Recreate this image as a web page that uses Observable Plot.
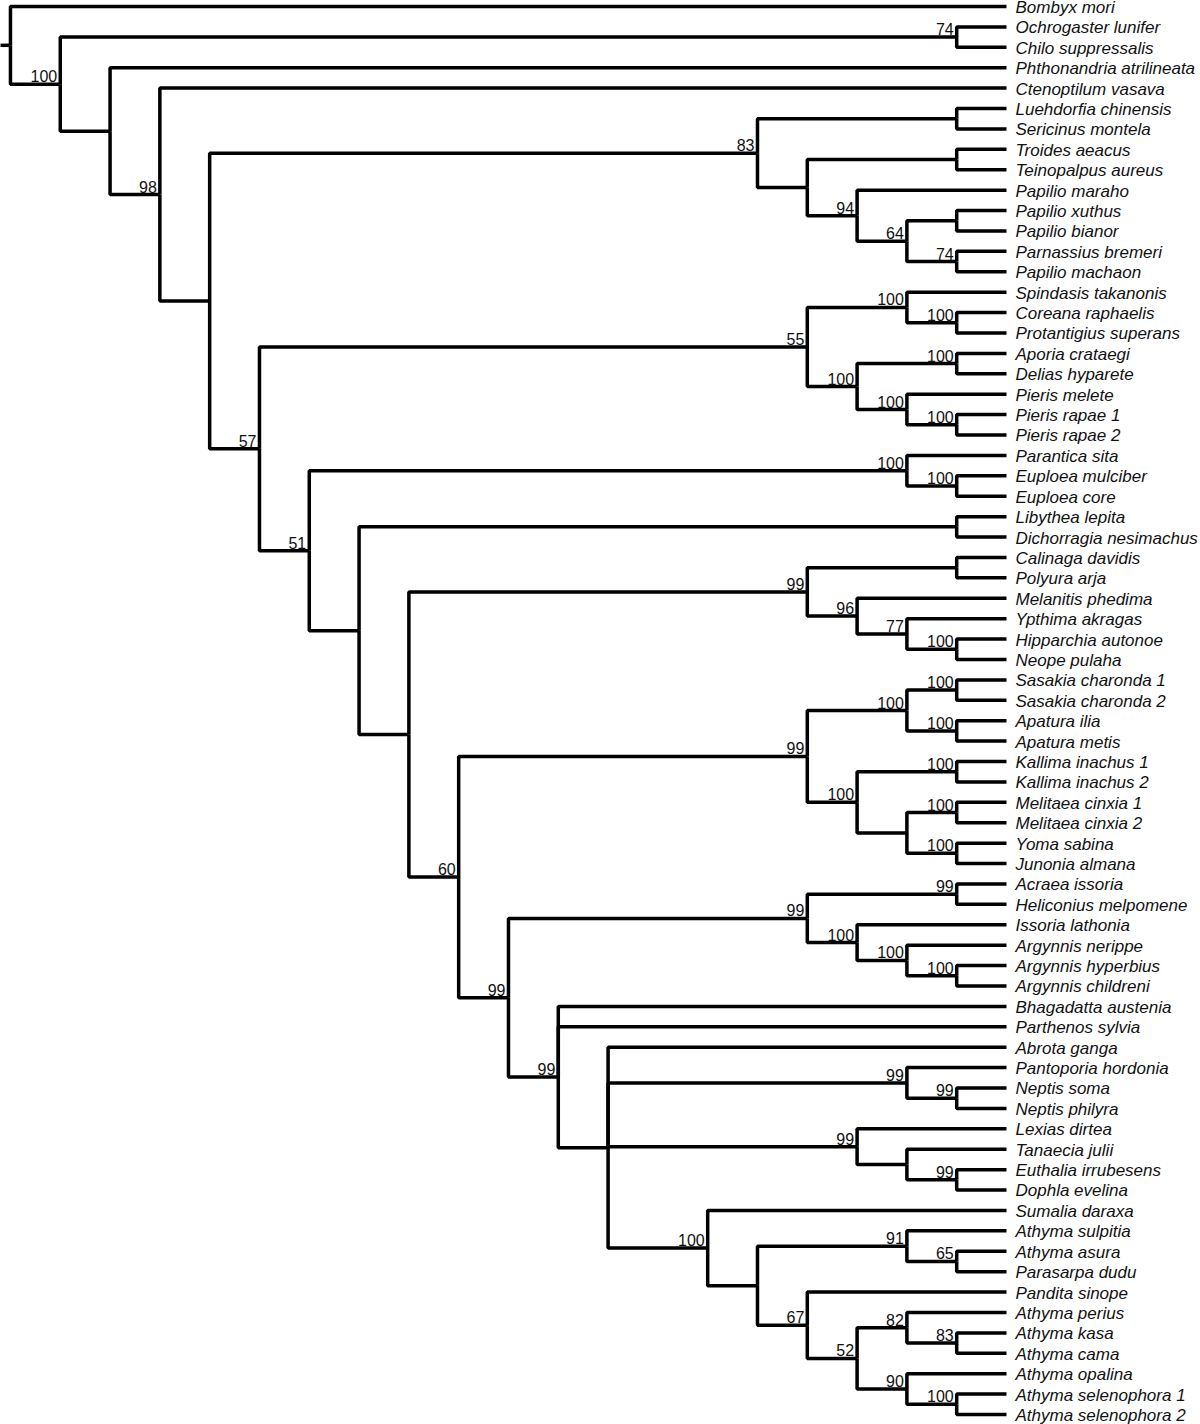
<!DOCTYPE html>
<html>
<head>
<meta charset="utf-8">
<script src="https://cdn.jsdelivr.net/npm/d3@7"></script>
<script src="https://cdn.jsdelivr.net/npm/@observablehq/plot@0.6"></script>
<style>
  html, body { margin: 0; padding: 0; background: #fff; }
  #chart svg { display: block; }
</style>
</head>
<body>
<div id="chart"></div>
<script>
// ---- Tree data (Newick; internal labels = bootstrap support, ":n" = branch length in levels) ----
const outgroupPair   = "(Ochrogaster lunifer,Chilo suppressalis)74";
const papilionidae   = "((Luehdorfia chinensis,Sericinus montela),((Troides aeacus,Teinopalpus aureus),(Papilio maraho,((Papilio xuthus,Papilio bianor),(Parnassius bremeri,Papilio machaon)74)64)94))83";
const lycaenidPierid = "((Spindasis takanonis,(Coreana raphaelis,Protantigius superans)100)100,((Aporia crataegi,Delias hyparete)100,(Pieris melete,(Pieris rapae 1,Pieris rapae 2)100)100)100)55";
const danainae       = "(Parantica sita,(Euploea mulciber,Euploea core)100)100";
const libythea       = "(Libythea lepita,Dichorragia nesimachus)";
const satyrinae      = "((Calinaga davidis,Polyura arja),(Melanitis phedima,(Ypthima akragas,(Hipparchia autonoe,Neope pulaha)100)77)96)99";
const apaturinae     = "(((Sasakia charonda 1,Sasakia charonda 2)100,(Apatura ilia,Apatura metis)100)100,((Kallima inachus 1,Kallima inachus 2)100,((Melitaea cinxia 1,Melitaea cinxia 2)100,(Yoma sabina,Junonia almana)100))100)99";
const heliconiinae   = "((Acraea issoria,Heliconius melpomene)99,(Issoria lathonia,(Argynnis nerippe,(Argynnis hyperbius,Argynnis childreni)100)100)100)99";
const neptini        = "(Pantoporia hordonia,(Neptis soma,Neptis philyra)99)99";
const euthaliini     = "(Lexias dirtea,(Tanaecia julii,(Euthalia irrubesens,Dophla evelina)99))99";
const athymaClade    = "(Sumalia daraxa,((Athyma sulpitia,(Athyma asura,Parasarpa dudu)65)91,(Pandita sinope,((Athyma perius,(Athyma kasa,Athyma cama)83)82,(Athyma opalina,(Athyma selenophora 1,Athyma selenophora 2)100)90)52)67))100";
const limenitidinae  = `(Bhagadatta austenia,Parthenos sylvia,(Abrota ganga,${neptini},${euthaliini},${athymaClade}:2))99`;

const newick =
  `(Bombyx mori,(${outgroupPair},(Phthonandria atrilineata,(Ctenoptilum vasava,(${papilionidae},` +
  `(${lycaenidPierid},(${danainae},(${libythea},(${satyrinae},(${apaturinae},(${heliconiinae},${limenitidinae})99)60)))51)57))98))100);`;

// ---- Newick parser ----
function parseNewick(s) {
  let i = 0;
  function node() {
    const n = {};
    if (s[i] === "(") {
      i++;
      n.children = [];
      for (;;) {
        n.children.push(node());
        if (s[i] === ",") { i++; continue; }
        if (s[i] === ")") { i++; break; }
        throw new Error("Bad Newick at " + i);
      }
    }
    let label = "";
    while (i < s.length && !",():;".includes(s[i])) label += s[i++];
    label = label.trim();
    if (n.children) { if (label) n.support = label; } else n.name = label;
    if (s[i] === ":") {
      i++;
      let len = "";
      while (i < s.length && !",();".includes(s[i])) len += s[i++];
      n.length = +len;
    }
    return n;
  }
  return node();
}

// ---- Layout: right-aligned cladogram ----
const root = d3.hierarchy(parseNewick(newick));
root.eachAfter(d => {
  d.h = d.children ? d3.max(d.children, c => c.h + (c.data.length ?? 1)) : 0;
});
const leaves = root.leaves();
leaves.forEach((d, i) => d.yy = i);
root.eachAfter(d => {
  if (d.children) d.yy = (d.children[0].yy + d.children[d.children.length - 1].yy) / 2;
});

const links = root.descendants().filter(d => d.parent).map(d => ({
  x1: d.parent.h, y1: d.parent.yy, x2: d.h, y2: d.yy
}));
const stemLen = 0.2;
links.push({x1: root.h + stemLen, y1: root.yy, x2: root.h, y2: root.yy});

const supports = root.descendants().filter(d => d.children && d.data.support);

const font = "'Liberation Sans', Arial, Helvetica, sans-serif";

const chart = Plot.plot({
  width: 1200,
  height: 1424,
  marginLeft: 0,
  marginRight: 194,
  marginTop: 6,
  marginBottom: 10,
  style: {fontFamily: font, background: "#fff", overflow: "visible"},
  x: {domain: [root.h + stemLen, 0], axis: null},
  y: {domain: [0, leaves.length - 1], reverse: true, axis: null},
  marks: [
    Plot.link(links, {
      x1: "x1", y1: "y1", x2: "x2", y2: "y2",
      curve: "step-before",
      stroke: "#000",
      strokeWidth: 3.5,
      strokeLinecap: "butt",
      strokeLinejoin: "miter"
    }),
    Plot.text(supports, {
      x: d => d.h, y: d => d.yy, text: d => d.data.support,
      textAnchor: "end", lineAnchor: "bottom",
      dx: -3, dy: -2,
      fontSize: 16, fill: "#111", fontFamily: font
    }),
    Plot.text(leaves, {
      x: d => d.h, y: d => d.yy, text: d => d.data.name,
      textAnchor: "start", dx: 9, dy: 1,
      fontSize: 17, fontStyle: "italic", fill: "#111", fontFamily: font,
      ariaLabel: "tip labels"
    })
  ]
});

// Trailing specimen numbers (e.g. "Pieris rapae 1") are set upright
d3.select(chart).selectAll('g[aria-label="tip labels"] text').each(function() {
  const t = d3.select(this);
  const m = /^(.*?)(\s+\d+)$/.exec(t.text());
  if (m) {
    t.text(null);
    t.append("tspan").text(m[1]);
    t.append("tspan").attr("font-style", "normal").text(m[2]);
  }
});

document.getElementById("chart").append(chart);
</script>
</body>
</html>
